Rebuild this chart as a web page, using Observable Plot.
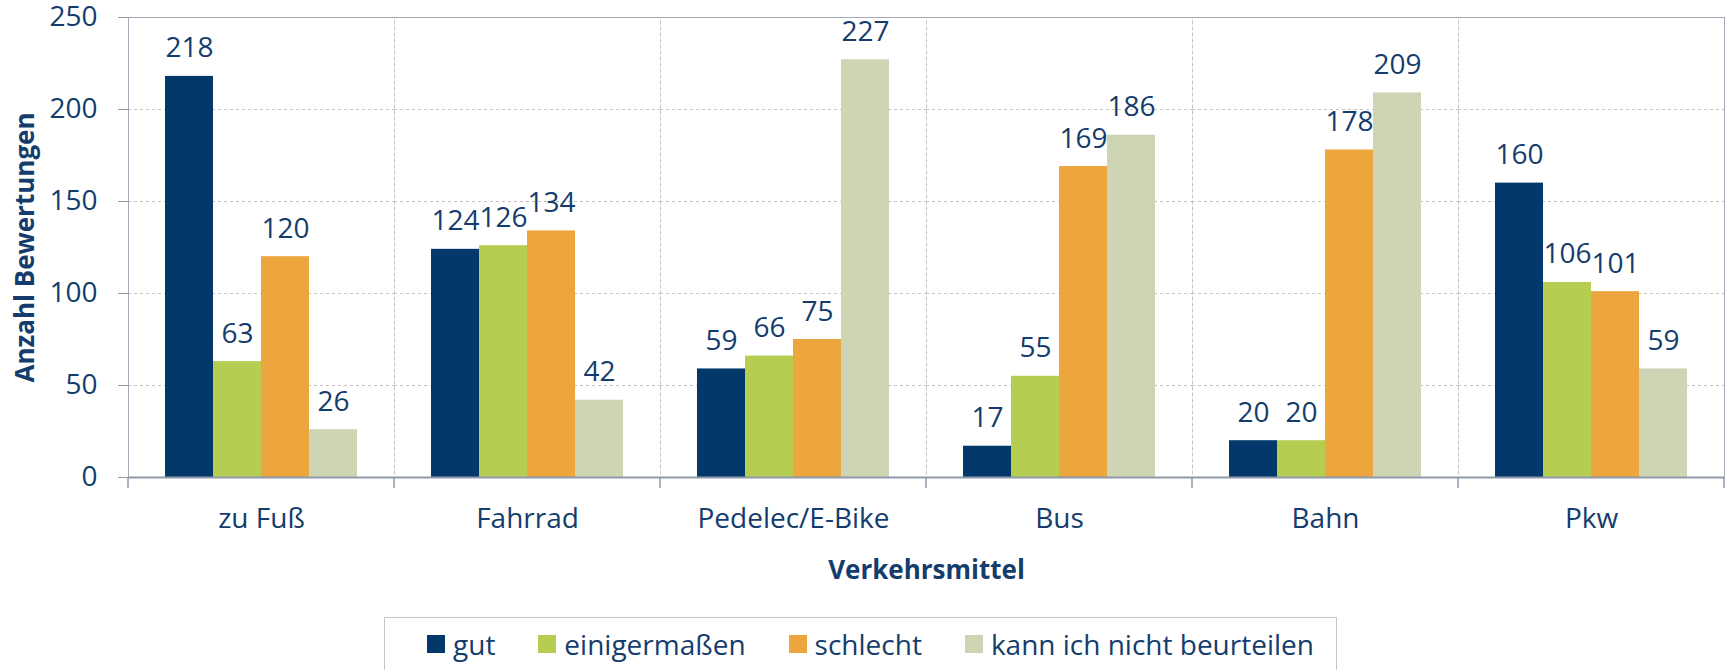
<!DOCTYPE html>
<html>
<head>
<meta charset="utf-8">
<script src="https://cdn.jsdelivr.net/npm/d3@7"></script>
<script src="https://cdn.jsdelivr.net/npm/@observablehq/plot@0.6"></script>
<style>
  html, body { margin: 0; padding: 0; background: #fff; }
  body { width: 1725px; height: 670px; overflow: hidden; font-family: "Open Sans", sans-serif; }
  #chart svg { display: block; }
  .legend {
    margin-left: 384px; margin-top: 12px; width: 953px; height: 70px;
    border: 1.5px solid #c6c6c6; box-sizing: border-box;
    padding-left: 42px; padding-top: 8px;
    font-size: 28px; color: #143c6c; line-height: 36px; white-space: nowrap;
  }
  .legend .row { display: flex; align-items: center; height: 36px; flex-wrap: nowrap; }
  .legend .item { display: flex; align-items: center; margin-right: 43px; flex: none; white-space: nowrap; }
  .legend .sw { width: 18px; height: 18px; margin-right: 8px; flex: none; }
</style>
</head>
<body>
<div id="chart"></div>
<script>
// ---- data ----
const categories = ["zu Fuß", "Fahrrad", "Pedelec/E-Bike", "Bus", "Bahn", "Pkw"];
const seriesNames = ["gut", "einigermaßen", "schlecht", "kann ich nicht beurteilen"];
const seriesColors = ["#02386a", "#b5ce52", "#eda63e", "#ced5b5"];
const gut = [218, 124, 59, 17, 20, 160];
const einigermassen = [63, 126, 66, 55, 20, 106];
const schlecht = [120, 134, 75, 169, 178, 101];
const kannNicht = [26, 42, 227, 186, 209, 59];
const yTicks = [0, 50, 100, 150, 200, 250];
const yTitle = "Anzahl Bewertungen";
const xTitle = "Verkehrsmittel";

const seriesValues = [gut, einigermassen, schlecht, kannNicht];
const rows = [];
categories.forEach((c, i) => {
  seriesNames.forEach((s, j) => rows.push({cat: c, series: s, value: seriesValues[j][i]}));
});

const textColor = "#143c6c";
const axisColor = "#8f99aa";
const gridColor = "#c4c4c4";

const plot = Plot.plot({
  width: 1725,
  height: 605,
  marginLeft: 128,
  marginRight: 1,
  marginTop: 17,
  marginBottom: 128,
  style: {fontFamily: "Open Sans", background: "#fff", overflow: "visible"},
  fx: {domain: categories, padding: 0, axis: null},
  x: {domain: seriesNames, paddingInner: 0, paddingOuter: 0.76, axis: null},
  y: {domain: [0, 250], axis: null},
  color: {domain: seriesNames, range: seriesColors},
  marks: [
    Plot.frame({stroke: gridColor, strokeDasharray: "3,3"}),
    Plot.gridY(yTicks.filter(t => t > 0 && t < 250), {stroke: gridColor, strokeOpacity: 1, strokeDasharray: "3,3"}),
    Plot.barY(rows, {fx: "cat", x: "series", y: "value", fill: "series"}),
    Plot.text(rows, {fx: "cat", x: "series", y: "value", text: d => String(d.value),
      lineAnchor: "bottom", dy: -19, fontSize: 28, fill: textColor}),
    Plot.frame({facet: "super", stroke: "#a2aab8"}),
    Plot.ruleY([0], {stroke: axisColor, strokeWidth: 2}),
    Plot.axisY({ticks: yTicks, tickSize: 10, tickPadding: 21, fontSize: 28, stroke: axisColor, fill: textColor, label: null}),
    Plot.axisFx({anchor: "bottom", tickSize: 0, tickPadding: 31, fontSize: 28, fill: textColor, label: null}),
    Plot.text([xTitle], {facet: "super", frameAnchor: "bottom", dy: 101, lineAnchor: "bottom",
      textAnchor: "middle", fontSize: 26, fontWeight: "bold", fill: textColor}),
    Plot.text([yTitle], {facet: "super", frameAnchor: "left", dx: -95, rotate: -90, lineAnchor: "bottom",
      textAnchor: "middle", fontSize: 26, fontWeight: "bold", fill: textColor})
  ]
});
document.getElementById("chart").appendChild(plot);

// boundary ticks below the category axis, placed with the plot's own scales
const fx = plot.scale("fx");
const ys = plot.scale("y");
const y0 = ys.apply(0);
const edges = categories.map(c => fx.apply(c));
edges.push(fx.apply(categories[categories.length - 1]) + fx.bandwidth);
d3.select(plot).append("g")
  .selectAll("line").data(edges).join("line")
  .attr("x1", d => d).attr("x2", d => d)
  .attr("y1", y0).attr("y2", y0 + 11)
  .attr("stroke", axisColor).attr("stroke-width", 1.5);

// legend below the chart
const legend = d3.select("body").append("div").attr("class", "legend");
const row = legend.append("div").attr("class", "row");
const items = row.selectAll(".item").data(seriesNames).join("div").attr("class", "item");
items.append("span").attr("class", "sw").style("background", (d, i) => seriesColors[i]);
items.append("span").text(d => d);
</script>
</body>
</html>
